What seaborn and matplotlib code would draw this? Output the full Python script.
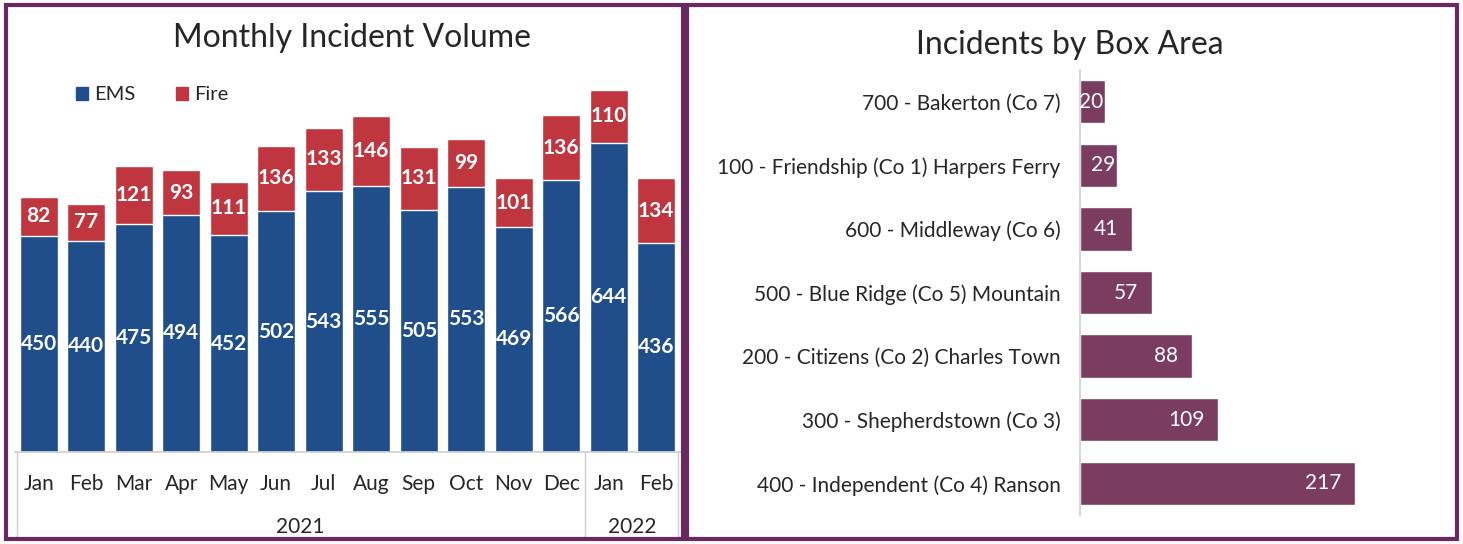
import matplotlib
matplotlib.use("Agg")
import matplotlib.pyplot as plt
import matplotlib.transforms as mtransforms
from matplotlib.patches import Rectangle, Patch
import pandas as pd
import seaborn as sns

# data
months = ["Jan", "Feb", "Mar", "Apr", "May", "Jun", "Jul", "Aug", "Sep", "Oct", "Nov", "Dec", "Jan", "Feb"]
years = ["2021"] * 12 + ["2022"] * 2
ems = [450, 440, 475, 494, 452, 502, 543, 555, 505, 553, 469, 566, 644, 436]
fire = [82, 77, 121, 93, 111, 136, 133, 146, 131, 99, 101, 136, 110, 134]

areas = [
    "700 - Bakerton (Co 7)",
    "100 - Friendship (Co 1) Harpers Ferry",
    "600 - Middleway (Co 6)",
    "500 - Blue Ridge (Co 5) Mountain",
    "200 - Citizens (Co 2) Charles Town",
    "300 - Shepherdstown (Co 3)",
    "400 - Independent (Co 4) Ranson",
]
area_counts = [20, 29, 41, 57, 88, 109, 217]

EMS_COL = "#1f4e8a"
FIRE_COL = "#c0363f"
AREA_COL = "#7a3d60"
FRAME_COL = "#6a2860"
TXT = "#262626"

sns.set_theme(style="white")
plt.rcParams["font.family"] = ["Lato", "DejaVu Sans"]

fig = plt.figure(figsize=(14.63, 5.44), dpi=100)
W, H = 1463, 544

# ---- left: monthly stacked bars ----
df = pd.DataFrame({"key": [f"{m} {y}" for m, y in zip(months, years)],
                   "ems": ems, "fire": fire})
df["total"] = df["ems"] + df["fire"]

ax1 = fig.add_axes([15 / W, (H - 452) / H, 665 / W, 384 / H])
sns.barplot(data=df, x="key", y="total", color=FIRE_COL, saturation=1,
            width=0.8, ax=ax1, order=df["key"])
sns.barplot(data=df, x="key", y="ems", color=EMS_COL, saturation=1,
            width=0.8, ax=ax1, order=df["key"])
ax1.set_xlim(-0.5, 13.5)
ax1.set_ylim(0, 800)
ax1.set_xlabel("")
ax1.set_ylabel("")
ax1.set_yticks([])
ax1.set_xticks(range(len(months)))
ax1.set_xticklabels(months, fontsize=15, color=TXT)
ax1.tick_params(axis="x", length=0, pad=16)
for s in ["top", "left", "right"]:
    ax1.spines[s].set_visible(False)
ax1.spines["bottom"].set_color("#d0d0d0")

# value labels
ems_bars = ax1.containers[1]
ax1.bar_label(ems_bars, labels=[str(v) for v in ems], label_type="center",
              color="white", fontweight="bold", fontsize=15)
for i, (e, f) in enumerate(zip(ems, fire)):
    ax1.text(i, e + f / 2, str(f), ha="center", va="center", color="white",
             fontweight="bold", fontsize=15)

# category table below axis
trans = mtransforms.blended_transform_factory(ax1.transData, ax1.transAxes)
for xv in [-0.46, 11.5, 13.46]:
    ax1.plot([xv, xv], [0, -0.23], color="#d0d0d0", lw=1, transform=trans, clip_on=False)
ax1.text(5.5, -0.195, "2021", transform=trans, ha="center", va="center", fontsize=15, color=TXT)
ax1.text(12.5, -0.195, "2022", transform=trans, ha="center", va="center", fontsize=15, color=TXT)

ax1.legend(handles=[Patch(color=EMS_COL, label="EMS"), Patch(color=FIRE_COL, label="Fire")],
           loc="center left", bbox_to_anchor=(0.065, 0.93), ncol=2, frameon=False,
           fontsize=14.5, handlelength=0.6, handleheight=0.6, handletextpad=0.3,
           columnspacing=2.0, labelcolor=TXT)

fig.text(352 / W, 1 - 38 / H, "Monthly Incident Volume", ha="center", va="center",
         fontsize=23, color=TXT)

# ---- right: incidents by box area ----
adf = pd.DataFrame({"area": areas, "count": area_counts})
ax2 = fig.add_axes([1080 / W, 29 / H, 360 / W, 445 / H])
sns.barplot(data=adf, y="area", x="count", orient="h", color=AREA_COL,
            saturation=1, width=0.68, ax=ax2, order=areas)
ax2.set_xlim(0, 284)
ax2.set_xlabel("")
ax2.set_ylabel("")
ax2.set_xticks([])
ax2.tick_params(axis="y", length=0, pad=14, labelsize=15, labelcolor=TXT)
for s in ["top", "bottom", "right"]:
    ax2.spines[s].set_visible(False)
ax2.spines["left"].set_color("#d0d0d0")
for i, c in enumerate(area_counts):
    off = -14 if c > 35 else -2
    ax2.annotate(str(c), xy=(c, i), xytext=(off, 0), textcoords="offset pixels",
                 ha="right", va="center", color="white", fontsize=15)

fig.text(1070 / W, 1 - 45 / H, "Incidents by Box Area", ha="center", va="center",
         fontsize=23, color=TXT)

# purple panel frames
fig.patches.append(Rectangle((6 / W, 5 / H), 677 / W, 534 / H, transform=fig.transFigure,
                             fill=False, edgecolor=FRAME_COL, lw=3))
fig.patches.append(Rectangle((687 / W, 5 / H), 770 / W, 534 / H, transform=fig.transFigure,
                             fill=False, edgecolor=FRAME_COL, lw=3))

fig.savefig("out.png", dpi=100)
